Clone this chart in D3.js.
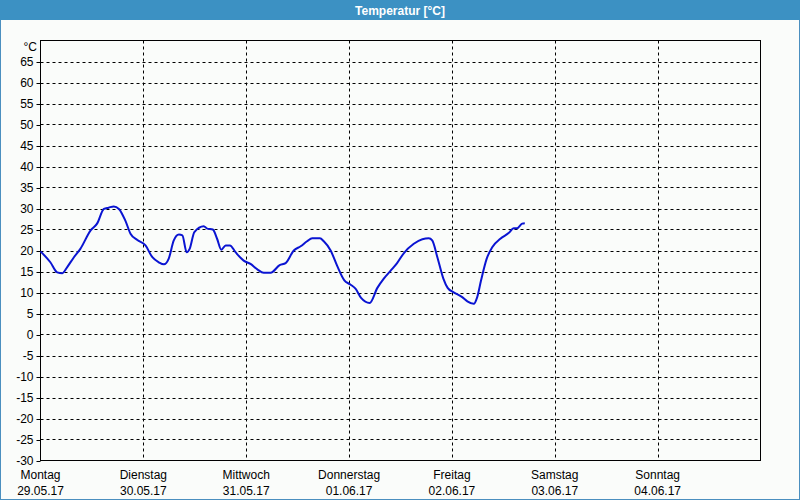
<!DOCTYPE html>
<html><head><meta charset="utf-8">
<script src="https://cdn.jsdelivr.net/npm/d3@7"></script>
<style>
html,body{margin:0;padding:0;background:#fafcfa;}
svg{display:block;}
text{font-family:"Liberation Sans",Arial,sans-serif;}
</style></head>
<body>
<svg id="chart" width="800" height="500"></svg>
<script>
const title = "Temperatur [°C]";
const unitLabel = "°C";
const dayNames = ["Montag","Dienstag","Mittwoch","Donnerstag","Freitag","Samstag","Sonntag"];
const dayDates = ["29.05.17","30.05.17","31.05.17","01.06.17","02.06.17","03.06.17","04.06.17"];
const yTicks = [-30,-25,-20,-15,-10,-5,0,5,10,15,20,25,30,35,40,45,50,55,60,65];
// hours since Montag 00:00
const hours = [0,2.3,3.9,5.1,6.2,7.8,9.3,11.7,13.2,14.8,15.9,17.1,18.3,19.8,21,22.6,24.5,26.1,27.6,28.8,29.9,31.1,32.3,33.1,34.1,34.8,35.9,38.1,38.9,40.2,41.2,42.2,43.2,44.2,45.5,47.4,49,50.6,52.1,53.7,55.8,57.2,59.1,60.7,62.2,63.4,65.2,66.1,67.7,69.2,70.9,72.3,73.5,74.8,76.8,78.6,80.1,81.7,83.2,84.8,87.1,89.1,90.6,91.4,92.6,94,95,96.3,98.4,99.6,101.1,101.9,102.8,104.1,105.4,107.3,109.3,110.4,111.2,112.4,113];
const temps = [19.8,17.2,14.8,14.6,16,18.4,20.4,24.8,26.4,29.9,30.2,30.5,29.9,27.1,24,22.5,21.2,18.4,17.2,16.7,18,22.4,23.8,23.6,19.6,20.4,24.4,25.8,25.2,25,22.8,20.2,21.2,21.2,19.6,17.6,16.8,15.5,14.7,14.7,16.5,17,20,21,22.2,22.9,22.9,22.2,20,16.4,12.9,11.9,10.9,8.7,7.5,11.1,13.3,15.2,17,19.4,21.6,22.7,22.9,22.4,18.4,13.3,11.1,10.1,8.9,7.9,7.3,8.9,12.9,18,20.8,22.8,24.2,25.3,25.3,26.4,26.5];

const svg = d3.select("#chart");
const W = 800, H = 500;
const L = 40.5, R = 760.5, T = 40.5, B = 460.5;

// background + outer border
svg.append("rect").attr("x",0.5).attr("y",0.5).attr("width",W-1).attr("height",H-1)
  .attr("fill","#fafcfa").attr("stroke","#4a8fbf").attr("stroke-width",1);
// title bar
svg.append("rect").attr("x",0).attr("y",0).attr("width",W).attr("height",20).attr("fill","#3c91c3");
svg.append("text").attr("x",W/2).attr("y",14.5).attr("text-anchor","middle")
  .attr("fill","#ffffff").attr("font-weight","bold").attr("font-size","12px").text(title);

const x = d3.scaleLinear().domain([0, 7*24]).range([L, R]);
const y = d3.scaleLinear().domain([-30, 70]).range([B, T]);

// horizontal grid
const g = svg.append("g");
g.selectAll("line.hg").data(yTicks.filter(v=>v>-30)).enter().append("line")
  .attr("x1",L).attr("x2",R).attr("y1",d=>Math.round(y(d))+0.5).attr("y2",d=>Math.round(y(d))+0.5)
  .attr("stroke","#000").attr("stroke-dasharray","3,3").attr("stroke-width",1);
// vertical grid
g.selectAll("line.vg").data(d3.range(1,7)).enter().append("line")
  .attr("x1",d=>Math.round(x(d*24))+0.5).attr("x2",d=>Math.round(x(d*24))+0.5)
  .attr("y1",T).attr("y2",B)
  .attr("stroke","#000").attr("stroke-dasharray","3,3").attr("stroke-width",1);

// frame
svg.append("rect").attr("x",L).attr("y",T).attr("width",R-L).attr("height",B-T)
  .attr("fill","none").attr("stroke","#000").attr("stroke-width",1);

// y axis ticks and labels
const yAxis = d3.axisLeft(y).tickValues(yTicks).tickSize(4).tickPadding(3).tickFormat(d=>String(d));
const ya = svg.append("g").attr("transform",`translate(${L},0.5)`).call(yAxis);
ya.select(".domain").remove();
ya.selectAll("line").attr("stroke","#000");
ya.selectAll("text").attr("font-size","12px").attr("fill","#000")
  .attr("font-family","Liberation Sans, Arial, sans-serif");
svg.append("text").attr("x",37).attr("y",y(70)+10).attr("text-anchor","end")
  .attr("font-size","12px").attr("fill","#000").text(unitLabel);

// x labels
const xl = svg.append("g");
xl.selectAll("text.dn").data(dayNames).enter().append("text")
  .attr("x",(d,i)=>x(i*24)).attr("y",479).attr("text-anchor","middle")
  .attr("font-size","12px").attr("fill","#000").text(d=>d);
xl.selectAll("text.dd").data(dayDates).enter().append("text")
  .attr("x",(d,i)=>x(i*24)).attr("y",495).attr("text-anchor","middle")
  .attr("font-size","12px").attr("fill","#000").text(d=>d);

// line
const data = hours.map((h,i)=>({h, t:temps[i]}));
svg.append("path").datum(data)
  .attr("fill","none").attr("stroke","#0a14d2").attr("stroke-width",2)
  .attr("stroke-linejoin","round")
  .attr("d", d3.line().x(d=>x(d.h)).y(d=>y(d.t)).curve(d3.curveMonotoneX));
</script>
</body></html>
